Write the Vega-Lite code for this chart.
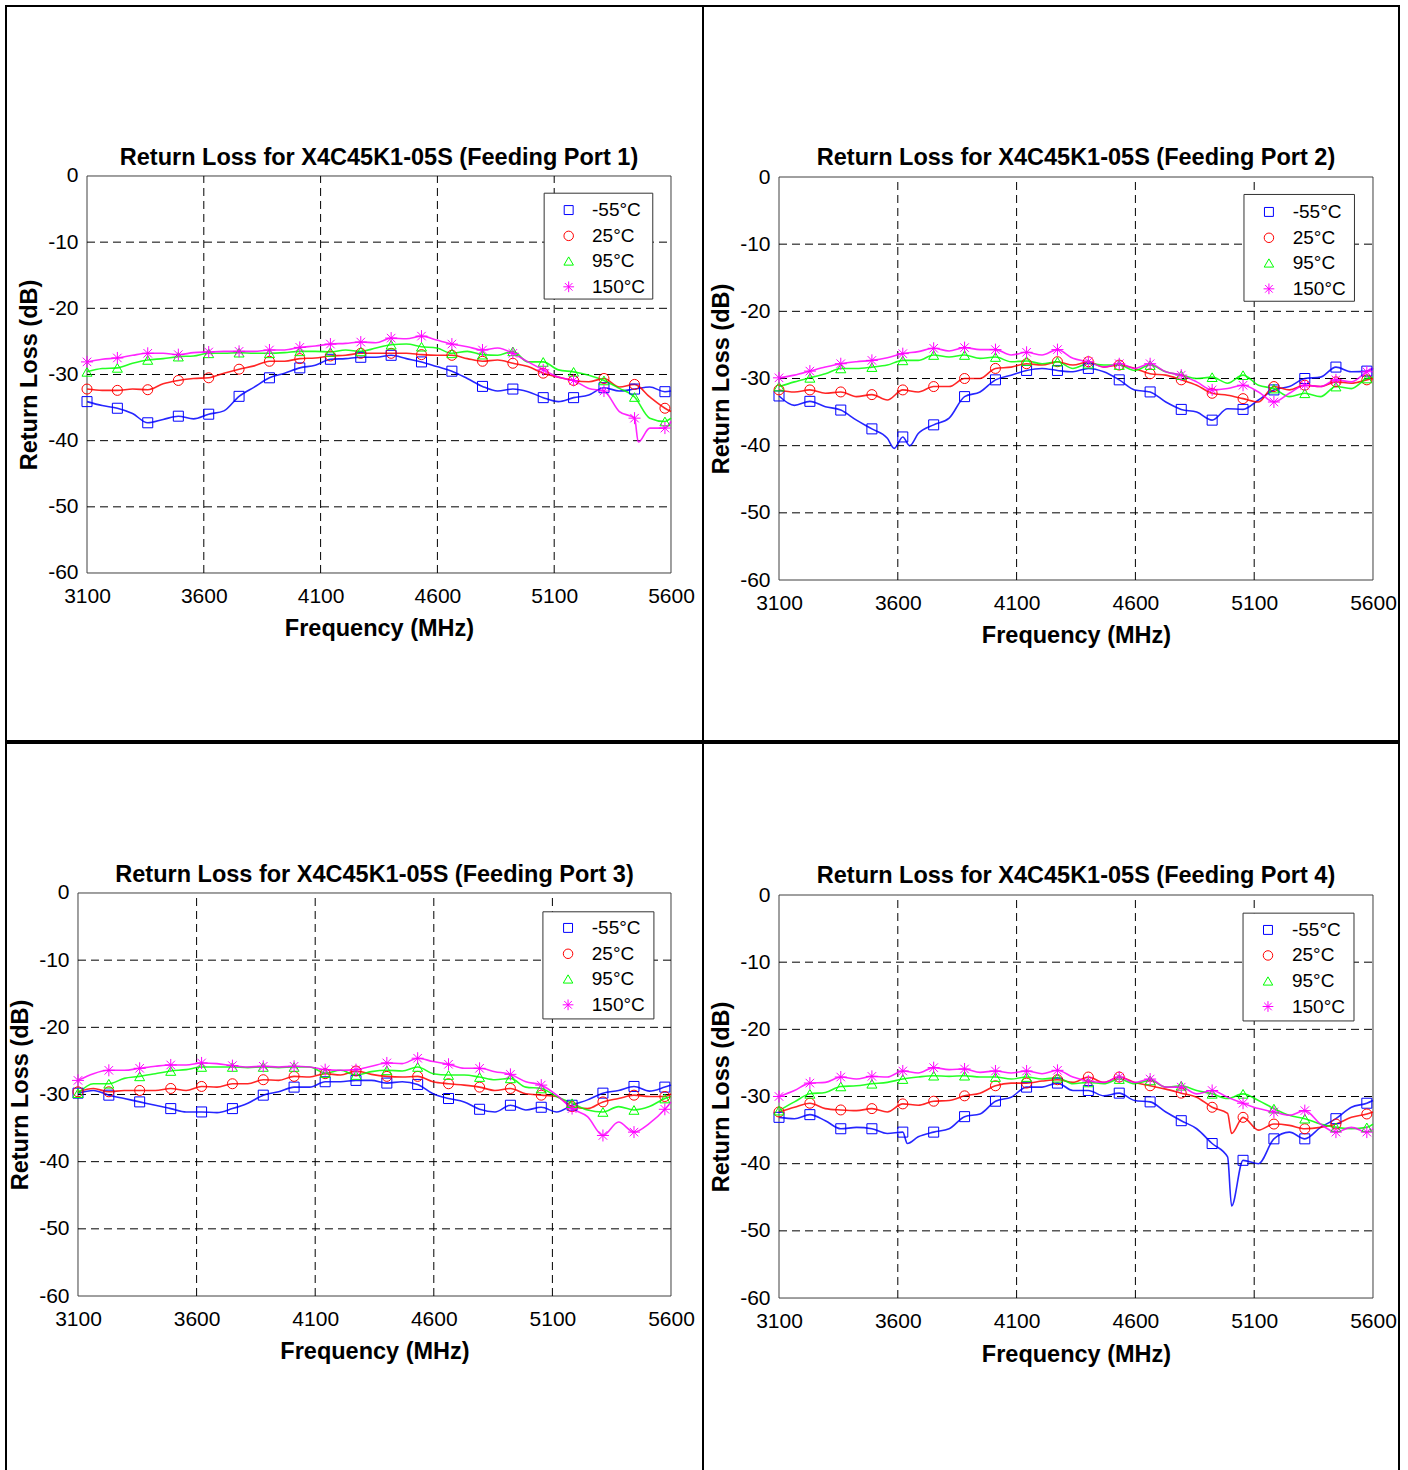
{
"$schema": "https://vega.github.io/schema/vega-lite/v6.json",
"background": "white",
"padding": {"left": 5, "top": 5, "right": 0, "bottom": 0},
"config": {"view": {"stroke": "black", "strokeWidth": 2}, "font": "Liberation Sans"},
"datasets": {
"p1": [
{"f":3100,"-55°C":-34.1,"25°C":-32.2,"95°C":-29.6,"150°C":-28.1},
{"f":3165,"-55°C":-34.7,"25°C":-32.4,"95°C":-29.1,"150°C":-27.7},
{"f":3230,"-55°C":-35.1,"25°C":-32.4,"95°C":-29.0,"150°C":-27.5},
{"f":3295,"-55°C":-35.9,"25°C":-32.2,"95°C":-28.3,"150°C":-27.1},
{"f":3360,"-55°C":-37.3,"25°C":-32.3,"95°C":-27.8,"150°C":-26.8},
{"f":3426,"-55°C":-36.8,"25°C":-31.4,"95°C":-27.6,"150°C":-26.8},
{"f":3491,"-55°C":-36.3,"25°C":-30.9,"95°C":-27.3,"150°C":-27.0},
{"f":3556,"-55°C":-36.7,"25°C":-30.6,"95°C":-27.2,"150°C":-26.7},
{"f":3621,"-55°C":-36.0,"25°C":-30.5,"95°C":-26.8,"150°C":-26.6},
{"f":3686,"-55°C":-35.5,"25°C":-29.8,"95°C":-26.8,"150°C":-26.5},
{"f":3751,"-55°C":-33.3,"25°C":-29.2,"95°C":-26.7,"150°C":-26.5},
{"f":3816,"-55°C":-31.9,"25°C":-28.7,"95°C":-26.8,"150°C":-26.5},
{"f":3881,"-55°C":-30.5,"25°C":-28.0,"95°C":-26.8,"150°C":-26.3},
{"f":3946,"-55°C":-29.8,"25°C":-28.0,"95°C":-26.7,"150°C":-26.3},
{"f":4011,"-55°C":-29.0,"25°C":-27.6,"95°C":-26.5,"150°C":-25.9},
{"f":4077,"-55°C":-28.6,"25°C":-27.5,"95°C":-26.5,"150°C":-25.7},
{"f":4142,"-55°C":-27.7,"25°C":-27.2,"95°C":-26.6,"150°C":-25.4},
{"f":4207,"-55°C":-27.6,"25°C":-27.1,"95°C":-26.3,"150°C":-25.3},
{"f":4272,"-55°C":-27.4,"25°C":-26.8,"95°C":-26.5,"150°C":-25.1},
{"f":4337,"-55°C":-27.4,"25°C":-26.8,"95°C":-26.0,"150°C":-25.2},
{"f":4402,"-55°C":-27.1,"25°C":-26.8,"95°C":-25.5,"150°C":-24.5},
{"f":4467,"-55°C":-27.6,"25°C":-26.8,"95°C":-25.4,"150°C":-24.6},
{"f":4532,"-55°C":-28.1,"25°C":-27.0,"95°C":-25.8,"150°C":-24.2},
{"f":4597,"-55°C":-28.8,"25°C":-27.1,"95°C":-26.0,"150°C":-24.8},
{"f":4662,"-55°C":-29.5,"25°C":-27.1,"95°C":-26.8,"150°C":-25.4},
{"f":4728,"-55°C":-30.6,"25°C":-27.6,"95°C":-26.5,"150°C":-25.8},
{"f":4793,"-55°C":-31.8,"25°C":-28.0,"95°C":-27.0,"150°C":-26.3},
{"f":4858,"-55°C":-32.5,"25°C":-27.8,"95°C":-27.1,"150°C":-26.0},
{"f":4923,"-55°C":-32.2,"25°C":-28.3,"95°C":-26.5,"150°C":-26.8},
{"f":4988,"-55°C":-32.6,"25°C":-28.8,"95°C":-28.1,"150°C":-28.1},
{"f":5053,"-55°C":-33.5,"25°C":-29.8,"95°C":-28.1,"150°C":-29.3},
{"f":5118,"-55°C":-34.1,"25°C":-30.4,"95°C":-29.3,"150°C":-30.4},
{"f":5183,"-55°C":-33.5,"25°C":-30.9,"95°C":-29.6,"150°C":-30.9},
{"f":5248,"-55°C":-33.1,"25°C":-31.1,"95°C":-30.1,"150°C":-32.1},
{"f":5313,"-55°C":-32.0,"25°C":-30.6,"95°C":-30.9,"150°C":-32.5},
{"f":5379,"-55°C":-32.5,"25°C":-31.9,"95°C":-32.1,"150°C":-35.6},
{"f":5444,"-55°C":-32.2,"25°C":-31.5,"95°C":-33.4,"150°C":-36.6},
{"f":5460,"150°C":-40.2},
{"f":5509,"-55°C":-31.9,"25°C":-33.4,"95°C":-36.6,"150°C":-38.1},
{"f":5574,"-55°C":-32.6,"25°C":-35.1,"95°C":-37.1,"150°C":-38.1},
{"f":5600,"-55°C":-32.5,"25°C":-35.6,"95°C":-36.6,"150°C":-37.1}
],
"p2": [
{"f":3100,"-55°C":-32.6,"25°C":-31.7,"95°C":-31.2,"150°C":-29.9},
{"f":3165,"-55°C":-34.0,"25°C":-32.0,"95°C":-30.5,"150°C":-29.5},
{"f":3230,"-55°C":-33.4,"25°C":-31.7,"95°C":-29.9,"150°C":-28.9},
{"f":3295,"-55°C":-34.2,"25°C":-32.2,"95°C":-29.3,"150°C":-28.3},
{"f":3360,"-55°C":-34.7,"25°C":-32.0,"95°C":-28.5,"150°C":-27.8},
{"f":3426,"-55°C":-36.2,"25°C":-32.7,"95°C":-28.5,"150°C":-27.5},
{"f":3491,"-55°C":-37.5,"25°C":-32.4,"95°C":-28.3,"150°C":-27.3},
{"f":3556,"-55°C":-38.9,"25°C":-33.2,"95°C":-28.0,"150°C":-26.9},
{"f":3585,"-55°C":-40.4},
{"f":3621,"-55°C":-38.7,"25°C":-31.7,"95°C":-27.3,"150°C":-26.3},
{"f":3650,"-55°C":-40.0},
{"f":3686,"-55°C":-38.2,"25°C":-32.0,"95°C":-27.3,"150°C":-26.0},
{"f":3751,"-55°C":-36.9,"25°C":-31.2,"95°C":-26.5,"150°C":-25.5},
{"f":3816,"-55°C":-35.9,"25°C":-31.2,"95°C":-26.8,"150°C":-25.9},
{"f":3881,"-55°C":-32.7,"25°C":-30.0,"95°C":-26.5,"150°C":-25.4},
{"f":3946,"-55°C":-32.0,"25°C":-30.0,"95°C":-27.0,"150°C":-25.7},
{"f":4011,"-55°C":-30.2,"25°C":-28.5,"95°C":-26.8,"150°C":-25.7},
{"f":4077,"-55°C":-29.5,"25°C":-28.3,"95°C":-27.5,"150°C":-26.5},
{"f":4142,"-55°C":-28.8,"25°C":-27.8,"95°C":-27.4,"150°C":-26.1},
{"f":4207,"-55°C":-28.5,"25°C":-28.0,"95°C":-27.8,"150°C":-26.5},
{"f":4272,"-55°C":-28.8,"25°C":-27.5,"95°C":-27.5,"150°C":-25.7},
{"f":4337,"-55°C":-29.0,"25°C":-28.0,"95°C":-28.5,"150°C":-27.0},
{"f":4402,"-55°C":-28.5,"25°C":-27.5,"95°C":-27.8,"150°C":-27.5},
{"f":4467,"-55°C":-29.0,"25°C":-28.3,"95°C":-28.0,"150°C":-28.3},
{"f":4532,"-55°C":-30.2,"25°C":-28.0,"95°C":-28.0,"150°C":-27.8},
{"f":4597,"-55°C":-31.7,"25°C":-28.5,"95°C":-28.8,"150°C":-28.5},
{"f":4662,"-55°C":-32.0,"25°C":-29.3,"95°C":-28.0,"150°C":-27.8},
{"f":4728,"-55°C":-33.5,"25°C":-29.5,"95°C":-29.0,"150°C":-29.0},
{"f":4793,"-55°C":-34.6,"25°C":-30.2,"95°C":-29.5,"150°C":-29.5},
{"f":4858,"-55°C":-35.0,"25°C":-31.0,"95°C":-30.0,"150°C":-30.5},
{"f":4923,"-55°C":-36.2,"25°C":-32.2,"95°C":-29.8,"150°C":-31.7},
{"f":4988,"-55°C":-34.5,"25°C":-32.5,"95°C":-30.7,"150°C":-31.5},
{"f":5053,"-55°C":-34.6,"25°C":-33.0,"95°C":-29.5,"150°C":-31.0},
{"f":5118,"-55°C":-33.2,"25°C":-33.5,"95°C":-31.0,"150°C":-32.0},
{"f":5183,"-55°C":-31.7,"25°C":-31.2,"95°C":-31.5,"150°C":-33.5},
{"f":5248,"-55°C":-31.2,"25°C":-31.7,"95°C":-32.7,"150°C":-32.2},
{"f":5313,"-55°C":-30.0,"25°C":-31.0,"95°C":-32.2,"150°C":-31.0},
{"f":5379,"-55°C":-29.8,"25°C":-31.2,"95°C":-32.7,"150°C":-31.2},
{"f":5444,"-55°C":-28.3,"25°C":-30.5,"95°C":-31.2,"150°C":-30.2},
{"f":5509,"-55°C":-29.0,"25°C":-30.7,"95°C":-31.5,"150°C":-30.5},
{"f":5574,"-55°C":-28.9,"25°C":-30.2,"95°C":-30.0,"150°C":-29.0},
{"f":5600,"-55°C":-28.5,"25°C":-30.0,"95°C":-29.8,"150°C":-28.5}
],
"p3": [
{"f":3100,"-55°C":-29.8,"25°C":-29.6,"95°C":-29.8,"150°C":-27.9},
{"f":3165,"-55°C":-29.4,"25°C":-29.1,"95°C":-28.4,"150°C":-26.9},
{"f":3230,"-55°C":-30.1,"25°C":-29.6,"95°C":-28.4,"150°C":-26.4},
{"f":3295,"-55°C":-30.6,"25°C":-29.4,"95°C":-27.6,"150°C":-26.4},
{"f":3360,"-55°C":-31.1,"25°C":-29.4,"95°C":-27.3,"150°C":-26.1},
{"f":3426,"-55°C":-31.6,"25°C":-29.4,"95°C":-26.9,"150°C":-25.8},
{"f":3491,"-55°C":-32.1,"25°C":-29.1,"95°C":-26.5,"150°C":-25.6},
{"f":3556,"-55°C":-32.6,"25°C":-29.4,"95°C":-26.3,"150°C":-25.6},
{"f":3621,"-55°C":-32.6,"25°C":-28.8,"95°C":-25.9,"150°C":-25.3},
{"f":3686,"-55°C":-32.7,"25°C":-28.9,"95°C":-25.9,"150°C":-25.4},
{"f":3751,"-55°C":-32.1,"25°C":-28.4,"95°C":-25.9,"150°C":-25.7},
{"f":3816,"-55°C":-31.3,"25°C":-28.4,"95°C":-26.0,"150°C":-25.9},
{"f":3881,"-55°C":-30.1,"25°C":-27.8,"95°C":-25.9,"150°C":-25.8},
{"f":3946,"-55°C":-29.6,"25°C":-27.9,"95°C":-26.0,"150°C":-25.9},
{"f":4011,"-55°C":-28.9,"25°C":-27.3,"95°C":-25.9,"150°C":-25.8},
{"f":4077,"-55°C":-28.9,"25°C":-27.4,"95°C":-25.9,"150°C":-25.9},
{"f":4142,"-55°C":-28.1,"25°C":-26.9,"95°C":-26.8,"150°C":-26.3},
{"f":4207,"-55°C":-28.1,"25°C":-27.1,"95°C":-26.4,"150°C":-26.4},
{"f":4272,"-55°C":-27.9,"25°C":-26.5,"95°C":-27.1,"150°C":-26.3},
{"f":4337,"-55°C":-27.9,"25°C":-27.0,"95°C":-26.6,"150°C":-25.8},
{"f":4402,"-55°C":-28.3,"25°C":-27.3,"95°C":-26.4,"150°C":-25.3},
{"f":4467,"-55°C":-28.1,"25°C":-27.4,"95°C":-26.5,"150°C":-25.4},
{"f":4532,"-55°C":-28.5,"25°C":-27.3,"95°C":-25.9,"150°C":-24.6},
{"f":4597,"-55°C":-29.9,"25°C":-28.1,"95°C":-26.9,"150°C":-25.1},
{"f":4662,"-55°C":-30.6,"25°C":-28.4,"95°C":-27.1,"150°C":-25.5},
{"f":4728,"-55°C":-31.1,"25°C":-28.6,"95°C":-27.1,"150°C":-26.1},
{"f":4793,"-55°C":-32.2,"25°C":-28.9,"95°C":-27.4,"150°C":-26.1},
{"f":4858,"-55°C":-32.6,"25°C":-29.4,"95°C":-27.8,"150°C":-26.6},
{"f":4923,"-55°C":-31.6,"25°C":-29.1,"95°C":-27.6,"150°C":-27.0},
{"f":4988,"-55°C":-32.3,"25°C":-29.9,"95°C":-28.9,"150°C":-28.1},
{"f":5053,"-55°C":-31.9,"25°C":-30.1,"95°C":-29.1,"150°C":-28.6},
{"f":5118,"-55°C":-32.6,"25°C":-30.3,"95°C":-30.3,"150°C":-30.1},
{"f":5183,"-55°C":-31.6,"25°C":-31.8,"95°C":-31.3,"150°C":-32.1},
{"f":5248,"-55°C":-30.8,"25°C":-32.1,"95°C":-32.3,"150°C":-33.3},
{"f":5313,"-55°C":-29.8,"25°C":-31.1,"95°C":-32.6,"150°C":-36.1},
{"f":5379,"-55°C":-29.4,"25°C":-30.6,"95°C":-31.8,"150°C":-34.1},
{"f":5444,"-55°C":-28.8,"25°C":-30.1,"95°C":-32.3,"150°C":-35.6},
{"f":5509,"-55°C":-29.5,"25°C":-30.3,"95°C":-31.8,"150°C":-34.3},
{"f":5574,"-55°C":-28.9,"25°C":-30.3,"95°C":-30.6,"150°C":-32.2},
{"f":5600,"-55°C":-28.6,"25°C":-29.9,"95°C":-30.3,"150°C":-31.1}
],
"p4": [
{"f":3100,"-55°C":-33.1,"25°C":-32.3,"95°C":-32.1,"150°C":-30.0},
{"f":3165,"-55°C":-33.3,"25°C":-31.6,"95°C":-30.8,"150°C":-29.1},
{"f":3230,"-55°C":-32.7,"25°C":-31.0,"95°C":-29.6,"150°C":-28.0},
{"f":3295,"-55°C":-33.6,"25°C":-31.8,"95°C":-29.4,"150°C":-27.9},
{"f":3360,"-55°C":-34.8,"25°C":-32.0,"95°C":-28.5,"150°C":-27.1},
{"f":3426,"-55°C":-34.6,"25°C":-32.1,"95°C":-28.4,"150°C":-27.4},
{"f":3491,"-55°C":-34.8,"25°C":-31.8,"95°C":-28.1,"150°C":-27.0},
{"f":3556,"-55°C":-35.5,"25°C":-32.3,"95°C":-27.9,"150°C":-27.1},
{"f":3621,"-55°C":-35.3,"25°C":-31.1,"95°C":-27.4,"150°C":-26.2},
{"f":3640,"-55°C":-37.0},
{"f":3686,"-55°C":-36.0,"25°C":-31.3,"95°C":-27.1,"150°C":-26.5},
{"f":3751,"-55°C":-35.3,"25°C":-30.7,"95°C":-26.9,"150°C":-25.7},
{"f":3816,"-55°C":-34.8,"25°C":-30.6,"95°C":-27.0,"150°C":-26.0},
{"f":3881,"-55°C":-33.0,"25°C":-29.9,"95°C":-26.9,"150°C":-25.9},
{"f":3946,"-55°C":-32.6,"25°C":-29.5,"95°C":-27.1,"150°C":-26.4},
{"f":4011,"-55°C":-30.7,"25°C":-28.4,"95°C":-27.1,"150°C":-26.2},
{"f":4077,"-55°C":-30.1,"25°C":-28.0,"95°C":-27.4,"150°C":-26.5},
{"f":4142,"-55°C":-28.6,"25°C":-28.0,"95°C":-27.1,"150°C":-26.2},
{"f":4207,"-55°C":-28.6,"25°C":-27.7,"95°C":-27.4,"150°C":-26.6},
{"f":4272,"-55°C":-28.0,"25°C":-27.5,"95°C":-27.2,"150°C":-26.1},
{"f":4337,"-55°C":-29.1,"25°C":-27.9,"95°C":-28.1,"150°C":-27.1},
{"f":4402,"-55°C":-29.1,"25°C":-27.1,"95°C":-27.9,"150°C":-27.7},
{"f":4467,"-55°C":-29.9,"25°C":-27.9,"95°C":-28.1,"150°C":-27.9},
{"f":4532,"-55°C":-29.5,"25°C":-27.1,"95°C":-27.4,"150°C":-27.1},
{"f":4597,"-55°C":-30.6,"25°C":-27.9,"95°C":-28.1,"150°C":-27.9},
{"f":4662,"-55°C":-30.8,"25°C":-28.4,"95°C":-27.6,"150°C":-27.4},
{"f":4728,"-55°C":-32.3,"25°C":-28.9,"95°C":-28.6,"150°C":-28.6},
{"f":4793,"-55°C":-33.6,"25°C":-29.5,"95°C":-28.4,"150°C":-28.6},
{"f":4858,"-55°C":-34.8,"25°C":-30.1,"95°C":-29.1,"150°C":-29.6},
{"f":4923,"-55°C":-37.0,"25°C":-31.6,"95°C":-29.6,"150°C":-29.1},
{"f":4988,"-55°C":-39.0,"25°C":-32.5,"95°C":-30.3,"150°C":-30.1},
{"f":5005,"-55°C":-46.3,"25°C":-35.5},
{"f":5053,"-55°C":-39.5,"25°C":-33.1,"95°C":-29.6,"150°C":-31.0},
{"f":5118,"-55°C":-40.0,"25°C":-35.0,"95°C":-30.6,"150°C":-31.8},
{"f":5183,"-55°C":-36.3,"25°C":-34.1,"95°C":-31.8,"150°C":-32.3},
{"f":5248,"-55°C":-35.3,"25°C":-34.3,"95°C":-32.8,"150°C":-32.8},
{"f":5313,"-55°C":-36.3,"25°C":-34.8,"95°C":-33.3,"150°C":-32.1},
{"f":5379,"-55°C":-34.6,"25°C":-34.6,"95°C":-34.1,"150°C":-34.1},
{"f":5444,"-55°C":-33.3,"25°C":-34.1,"95°C":-34.6,"150°C":-35.3},
{"f":5509,"-55°C":-31.6,"25°C":-33.1,"95°C":-34.8,"150°C":-34.6},
{"f":5574,"-55°C":-31.0,"25°C":-32.6,"95°C":-34.6,"150°C":-35.3},
{"f":5600,"-55°C":-30.6,"25°C":-32.3,"95°C":-34.1,"150°C":-34.8}
]
},
"vconcat": [
{"hconcat": [
{"width": 697, "height": 735, "layer": [
{"data": {"values": [{}]}, "mark": {"type": "rect", "fill": "transparent", "stroke": "#404040", "strokeWidth": 1},
 "encoding": {
  "x": {"datum": 3100, "type": "quantitative", "scale": {"domain": [2753.25, 5736.99], "nice": false, "zero": false},
   "axis": {"title": "Frequency (MHz)", "orient": "bottom", "offset": -168, "values": [3100,3600,4100,4600,5100,5600], "labelExpr": "'' + datum.value", "grid": false, "domain": false, "ticks": false, "labelFontSize": 21, "labelColor": "black", "labelPadding": 12, "labelFlush": false, "labelOverlap": false, "titleFontSize": 23.5, "titleFontWeight": "bold", "titleColor": "black", "titleX": 373, "titleY": 55, "titleAlign": "center", "titleBaseline": "middle"}},
  "x2": {"datum": 5600},
  "y": {"datum": -60, "type": "quantitative", "scale": {"domain": [-85.39, 25.69], "nice": false, "zero": false},
   "axis": {"title": "Return Loss (dB)", "orient": "left", "offset": -81, "values": [0,-10,-20,-30,-40,-50,-60], "labelExpr": "'' + datum.value", "grid": false, "domain": false, "ticks": false, "labelFontSize": 21, "labelColor": "black", "labelPadding": 9, "labelFlush": false, "labelOverlap": false, "titleFontSize": 23.5, "titleFontWeight": "bold", "titleColor": "black", "titleX": -58, "titleY": 368.5, "titleAngle": 270, "titleAlign": "center", "titleBaseline": "middle"}},
  "y2": {"datum": 0}}},
{"data": {"values": [{"f":3600},{"f":4100},{"f":4600},{"f":5100}]}, "mark": {"type": "rule", "color": "black", "strokeWidth": 1, "strokeDash": [8,5]},
 "encoding": {"x": {"field": "f", "type": "quantitative"}, "y": {"datum": -60, "type": "quantitative"}, "y2": {"datum": 0}}},
{"data": {"values": [{"v":-10},{"v":-20},{"v":-30},{"v":-40},{"v":-50}]}, "mark": {"type": "rule", "color": "black", "strokeWidth": 1, "strokeDash": [8,5]},
 "encoding": {"y": {"field": "v", "type": "quantitative"}, "x": {"datum": 3100, "type": "quantitative"}, "x2": {"datum": 5600}}},
{"data": {"name": "p1"}, "transform": [{"fold": ["-55°C","25°C","95°C","150°C"], "as": ["s","v"]}, {"filter": "isValid(datum.v)"}],
 "mark": {"type": "line", "strokeWidth": 1.6, "opacity": 0.85, "interpolate": "monotone"},
 "encoding": {"x": {"field": "f", "type": "quantitative"}, "y": {"field": "v", "type": "quantitative"},
  "stroke": {"field": "s", "type": "nominal", "scale": {"domain": ["-55°C","25°C","95°C","150°C"], "range": ["#0000ff","#ff0000","#00ff00","#ff00ff"]}, "legend": null}}},
{"data": {"name": "p1"}, "transform": [{"fold": ["-55°C","25°C","95°C","150°C"], "as": ["s","v"]}, {"filter": "isValid(datum.v)"}, {"filter": {"field": "f", "oneOf": [3100,3230,3360,3491,3621,3751,3881,4011,4142,4272,4402,4532,4662,4793,4923,5053,5183,5313,5444,5574]}}],
 "mark": {"type": "point", "filled": false, "size": 100, "strokeWidth": 1, "opacity": 1},
 "encoding": {"x": {"field": "f", "type": "quantitative"}, "y": {"field": "v", "type": "quantitative"},
  "color": {"field": "s", "type": "nominal", "scale": {"domain": ["-55°C","25°C","95°C","150°C"], "range": ["#0000ff","#ff0000","#00ff00","#ff00ff"]}, "legend": null},
  "shape": {"field": "s", "type": "nominal", "scale": {"domain": ["-55°C","25°C","95°C","150°C"], "range": ["square","circle","triangle-up","M0,-1.2L0,1.2M-1.2,0L1.2,0M-0.85,-0.85L0.85,0.85M-0.85,0.85L0.85,-0.85"]}, "legend": null}}},
{"data": {"values": [{}]}, "mark": {"type": "rect", "fill": "white", "stroke": "#333333", "strokeWidth": 1}, "encoding": {"x": {"datum": 5057, "type": "quantitative"}, "x2": {"datum": 5522}, "y": {"datum": -2.6, "type": "quantitative"}, "y2": {"datum": -18.6}}},
{"data": {"values": [{}]}, "mark": {"type": "point", "shape": "square", "color": "#0000ff", "filled": false, "size": 80, "strokeWidth": 1, "opacity": 1}, "encoding": {"x": {"datum": 5162, "type": "quantitative"}, "y": {"datum": -5.15, "type": "quantitative"}}},
{"data": {"values": [{}]}, "mark": {"type": "point", "shape": "circle", "color": "#ff0000", "filled": false, "size": 90, "strokeWidth": 1, "opacity": 1}, "encoding": {"x": {"datum": 5162, "type": "quantitative"}, "y": {"datum": -9.05, "type": "quantitative"}}},
{"data": {"values": [{}]}, "mark": {"type": "point", "shape": "triangle-up", "color": "#00ff00", "filled": false, "size": 90, "strokeWidth": 1, "opacity": 1}, "encoding": {"x": {"datum": 5162, "type": "quantitative"}, "y": {"datum": -12.85, "type": "quantitative"}}},
{"data": {"values": [{}]}, "mark": {"type": "point", "shape": "M0,-1.2L0,1.2M-1.2,0L1.2,0M-0.85,-0.85L0.85,0.85M-0.85,0.85L0.85,-0.85", "color": "#ff00ff", "filled": false, "size": 80, "strokeWidth": 1, "opacity": 1}, "encoding": {"x": {"datum": 5162, "type": "quantitative"}, "y": {"datum": -16.75, "type": "quantitative"}}},
{"data": {"values": [{"t": "-55°C"}]}, "mark": {"type": "text", "align": "left", "baseline": "middle", "fontSize": 19, "color": "black"}, "encoding": {"x": {"datum": 5262, "type": "quantitative"}, "y": {"datum": -5.15, "type": "quantitative"}, "text": {"field": "t"}}},
{"data": {"values": [{"t": "25°C"}]}, "mark": {"type": "text", "align": "left", "baseline": "middle", "fontSize": 19, "color": "black"}, "encoding": {"x": {"datum": 5262, "type": "quantitative"}, "y": {"datum": -9.05, "type": "quantitative"}, "text": {"field": "t"}}},
{"data": {"values": [{"t": "95°C"}]}, "mark": {"type": "text", "align": "left", "baseline": "middle", "fontSize": 19, "color": "black"}, "encoding": {"x": {"datum": 5262, "type": "quantitative"}, "y": {"datum": -12.85, "type": "quantitative"}, "text": {"field": "t"}}},
{"data": {"values": [{"t": "150°C"}]}, "mark": {"type": "text", "align": "left", "baseline": "middle", "fontSize": 19, "color": "black"}, "encoding": {"x": {"datum": 5262, "type": "quantitative"}, "y": {"datum": -16.75, "type": "quantitative"}, "text": {"field": "t"}}},
{"data": {"values": [{"t": "Return Loss for X4C45K1-05S (Feeding Port 1)"}]}, "mark": {"type": "text", "fontSize": 23.5, "fontWeight": "bold", "color": "black", "baseline": "middle", "align": "center", "dy": -18},
 "encoding": {"x": {"datum": 4350, "type": "quantitative"}, "y": {"datum": 0, "type": "quantitative"}, "text": {"field": "t"}}}
]},
{"width": 696, "height": 735, "layer": [
{"data": {"values": [{}]}, "mark": {"type": "rect", "fill": "transparent", "stroke": "#404040", "strokeWidth": 1},
 "encoding": {
  "x": {"datum": 3100, "type": "quantitative", "scale": {"domain": [2780.13, 5709.43], "nice": false, "zero": false},
   "axis": {"title": "Frequency (MHz)", "orient": "bottom", "offset": -161, "values": [3100,3600,4100,4600,5100,5600], "labelExpr": "'' + datum.value", "grid": false, "domain": false, "ticks": false, "labelFontSize": 21, "labelColor": "black", "labelPadding": 12, "labelFlush": false, "labelOverlap": false, "titleFontSize": 23.5, "titleFontWeight": "bold", "titleColor": "black", "titleX": 373, "titleY": 55, "titleAlign": "center", "titleBaseline": "middle"}},
  "x2": {"datum": 5600},
  "y": {"datum": -60, "type": "quantitative", "scale": {"domain": [-83.97, 25.46], "nice": false, "zero": false},
   "axis": {"title": "Return Loss (dB)", "orient": "left", "offset": -76, "values": [0,-10,-20,-30,-40,-50,-60], "labelExpr": "'' + datum.value", "grid": false, "domain": false, "ticks": false, "labelFontSize": 21, "labelColor": "black", "labelPadding": 9, "labelFlush": false, "labelOverlap": false, "titleFontSize": 23.5, "titleFontWeight": "bold", "titleColor": "black", "titleX": -58, "titleY": 372.5, "titleAngle": 270, "titleAlign": "center", "titleBaseline": "middle"}},
  "y2": {"datum": 0}}},
{"data": {"values": [{"f":3600},{"f":4100},{"f":4600},{"f":5100}]}, "mark": {"type": "rule", "color": "black", "strokeWidth": 1, "strokeDash": [8,5]},
 "encoding": {"x": {"field": "f", "type": "quantitative"}, "y": {"datum": -60, "type": "quantitative"}, "y2": {"datum": 0}}},
{"data": {"values": [{"v":-10},{"v":-20},{"v":-30},{"v":-40},{"v":-50}]}, "mark": {"type": "rule", "color": "black", "strokeWidth": 1, "strokeDash": [8,5]},
 "encoding": {"y": {"field": "v", "type": "quantitative"}, "x": {"datum": 3100, "type": "quantitative"}, "x2": {"datum": 5600}}},
{"data": {"name": "p2"}, "transform": [{"fold": ["-55°C","25°C","95°C","150°C"], "as": ["s","v"]}, {"filter": "isValid(datum.v)"}],
 "mark": {"type": "line", "strokeWidth": 1.6, "opacity": 0.85, "interpolate": "monotone"},
 "encoding": {"x": {"field": "f", "type": "quantitative"}, "y": {"field": "v", "type": "quantitative"},
  "stroke": {"field": "s", "type": "nominal", "scale": {"domain": ["-55°C","25°C","95°C","150°C"], "range": ["#0000ff","#ff0000","#00ff00","#ff00ff"]}, "legend": null}}},
{"data": {"name": "p2"}, "transform": [{"fold": ["-55°C","25°C","95°C","150°C"], "as": ["s","v"]}, {"filter": "isValid(datum.v)"}, {"filter": {"field": "f", "oneOf": [3100,3230,3360,3491,3621,3751,3881,4011,4142,4272,4402,4532,4662,4793,4923,5053,5183,5313,5444,5574]}}],
 "mark": {"type": "point", "filled": false, "size": 100, "strokeWidth": 1, "opacity": 1},
 "encoding": {"x": {"field": "f", "type": "quantitative"}, "y": {"field": "v", "type": "quantitative"},
  "color": {"field": "s", "type": "nominal", "scale": {"domain": ["-55°C","25°C","95°C","150°C"], "range": ["#0000ff","#ff0000","#00ff00","#ff00ff"]}, "legend": null},
  "shape": {"field": "s", "type": "nominal", "scale": {"domain": ["-55°C","25°C","95°C","150°C"], "range": ["square","circle","triangle-up","M0,-1.2L0,1.2M-1.2,0L1.2,0M-0.85,-0.85L0.85,0.85M-0.85,0.85L0.85,-0.85"]}, "legend": null}}},
{"data": {"values": [{}]}, "mark": {"type": "rect", "fill": "white", "stroke": "#333333", "strokeWidth": 1}, "encoding": {"x": {"datum": 5057, "type": "quantitative"}, "x2": {"datum": 5522}, "y": {"datum": -2.6, "type": "quantitative"}, "y2": {"datum": -18.5}}},
{"data": {"values": [{}]}, "mark": {"type": "point", "shape": "square", "color": "#0000ff", "filled": false, "size": 80, "strokeWidth": 1, "opacity": 1}, "encoding": {"x": {"datum": 5162, "type": "quantitative"}, "y": {"datum": -5.2, "type": "quantitative"}}},
{"data": {"values": [{}]}, "mark": {"type": "point", "shape": "circle", "color": "#ff0000", "filled": false, "size": 90, "strokeWidth": 1, "opacity": 1}, "encoding": {"x": {"datum": 5162, "type": "quantitative"}, "y": {"datum": -9.05, "type": "quantitative"}}},
{"data": {"values": [{}]}, "mark": {"type": "point", "shape": "triangle-up", "color": "#00ff00", "filled": false, "size": 90, "strokeWidth": 1, "opacity": 1}, "encoding": {"x": {"datum": 5162, "type": "quantitative"}, "y": {"datum": -12.8, "type": "quantitative"}}},
{"data": {"values": [{}]}, "mark": {"type": "point", "shape": "M0,-1.2L0,1.2M-1.2,0L1.2,0M-0.85,-0.85L0.85,0.85M-0.85,0.85L0.85,-0.85", "color": "#ff00ff", "filled": false, "size": 80, "strokeWidth": 1, "opacity": 1}, "encoding": {"x": {"datum": 5162, "type": "quantitative"}, "y": {"datum": -16.65, "type": "quantitative"}}},
{"data": {"values": [{"t": "-55°C"}]}, "mark": {"type": "text", "align": "left", "baseline": "middle", "fontSize": 19, "color": "black"}, "encoding": {"x": {"datum": 5262, "type": "quantitative"}, "y": {"datum": -5.2, "type": "quantitative"}, "text": {"field": "t"}}},
{"data": {"values": [{"t": "25°C"}]}, "mark": {"type": "text", "align": "left", "baseline": "middle", "fontSize": 19, "color": "black"}, "encoding": {"x": {"datum": 5262, "type": "quantitative"}, "y": {"datum": -9.05, "type": "quantitative"}, "text": {"field": "t"}}},
{"data": {"values": [{"t": "95°C"}]}, "mark": {"type": "text", "align": "left", "baseline": "middle", "fontSize": 19, "color": "black"}, "encoding": {"x": {"datum": 5262, "type": "quantitative"}, "y": {"datum": -12.8, "type": "quantitative"}, "text": {"field": "t"}}},
{"data": {"values": [{"t": "150°C"}]}, "mark": {"type": "text", "align": "left", "baseline": "middle", "fontSize": 19, "color": "black"}, "encoding": {"x": {"datum": 5262, "type": "quantitative"}, "y": {"datum": -16.65, "type": "quantitative"}, "text": {"field": "t"}}},
{"data": {"values": [{"t": "Return Loss for X4C45K1-05S (Feeding Port 2)"}]}, "mark": {"type": "text", "fontSize": 23.5, "fontWeight": "bold", "color": "black", "baseline": "middle", "align": "center", "dy": -19},
 "encoding": {"x": {"datum": 4350, "type": "quantitative"}, "y": {"datum": 0, "type": "quantitative"}, "text": {"field": "t"}}}
]}
], "spacing": 0, "bounds": "flush",
 "resolve": {"scale": {"x": "independent", "y": "independent", "color": "independent", "shape": "independent", "stroke": "independent"}, "axis": {"x": "independent", "y": "independent"}}},
{"hconcat": [
{"width": 697, "height": 730, "layer": [
{"data": {"values": [{}]}, "mark": {"type": "rect", "fill": "transparent", "stroke": "#404040", "strokeWidth": 1},
 "encoding": {
  "x": {"datum": 3100, "type": "quantitative", "scale": {"domain": [2796.46, 5734.91], "nice": false, "zero": false},
   "axis": {"title": "Frequency (MHz)", "orient": "bottom", "offset": -177, "values": [3100,3600,4100,4600,5100,5600], "labelExpr": "'' + datum.value", "grid": false, "domain": false, "ticks": false, "labelFontSize": 21, "labelColor": "black", "labelPadding": 12, "labelFlush": false, "labelOverlap": false, "titleFontSize": 23.5, "titleFontWeight": "bold", "titleColor": "black", "titleX": 368.5, "titleY": 55, "titleAlign": "center", "titleBaseline": "middle"}},
  "x2": {"datum": 5600},
  "y": {"datum": -60, "type": "quantitative", "scale": {"domain": [-86.35, 22.33], "nice": false, "zero": false},
   "axis": {"title": "Return Loss (dB)", "orient": "left", "offset": -72, "values": [0,-10,-20,-30,-40,-50,-60], "labelExpr": "'' + datum.value", "grid": false, "domain": false, "ticks": false, "labelFontSize": 21, "labelColor": "black", "labelPadding": 9, "labelFlush": false, "labelOverlap": false, "titleFontSize": 23.5, "titleFontWeight": "bold", "titleColor": "black", "titleX": -58, "titleY": 351.5, "titleAngle": 270, "titleAlign": "center", "titleBaseline": "middle"}},
  "y2": {"datum": 0}}},
{"data": {"values": [{"f":3600},{"f":4100},{"f":4600},{"f":5100}]}, "mark": {"type": "rule", "color": "black", "strokeWidth": 1, "strokeDash": [8,5]},
 "encoding": {"x": {"field": "f", "type": "quantitative"}, "y": {"datum": -60, "type": "quantitative"}, "y2": {"datum": 0}}},
{"data": {"values": [{"v":-10},{"v":-20},{"v":-30},{"v":-40},{"v":-50}]}, "mark": {"type": "rule", "color": "black", "strokeWidth": 1, "strokeDash": [8,5]},
 "encoding": {"y": {"field": "v", "type": "quantitative"}, "x": {"datum": 3100, "type": "quantitative"}, "x2": {"datum": 5600}}},
{"data": {"name": "p3"}, "transform": [{"fold": ["-55°C","25°C","95°C","150°C"], "as": ["s","v"]}, {"filter": "isValid(datum.v)"}],
 "mark": {"type": "line", "strokeWidth": 1.6, "opacity": 0.85, "interpolate": "monotone"},
 "encoding": {"x": {"field": "f", "type": "quantitative"}, "y": {"field": "v", "type": "quantitative"},
  "stroke": {"field": "s", "type": "nominal", "scale": {"domain": ["-55°C","25°C","95°C","150°C"], "range": ["#0000ff","#ff0000","#00ff00","#ff00ff"]}, "legend": null}}},
{"data": {"name": "p3"}, "transform": [{"fold": ["-55°C","25°C","95°C","150°C"], "as": ["s","v"]}, {"filter": "isValid(datum.v)"}, {"filter": {"field": "f", "oneOf": [3100,3230,3360,3491,3621,3751,3881,4011,4142,4272,4402,4532,4662,4793,4923,5053,5183,5313,5444,5574]}}],
 "mark": {"type": "point", "filled": false, "size": 100, "strokeWidth": 1, "opacity": 1},
 "encoding": {"x": {"field": "f", "type": "quantitative"}, "y": {"field": "v", "type": "quantitative"},
  "color": {"field": "s", "type": "nominal", "scale": {"domain": ["-55°C","25°C","95°C","150°C"], "range": ["#0000ff","#ff0000","#00ff00","#ff00ff"]}, "legend": null},
  "shape": {"field": "s", "type": "nominal", "scale": {"domain": ["-55°C","25°C","95°C","150°C"], "range": ["square","circle","triangle-up","M0,-1.2L0,1.2M-1.2,0L1.2,0M-0.85,-0.85L0.85,0.85M-0.85,0.85L0.85,-0.85"]}, "legend": null}}},
{"data": {"values": [{}]}, "mark": {"type": "rect", "fill": "white", "stroke": "#333333", "strokeWidth": 1}, "encoding": {"x": {"datum": 5060, "type": "quantitative"}, "x2": {"datum": 5528}, "y": {"datum": -2.8, "type": "quantitative"}, "y2": {"datum": -18.75}}},
{"data": {"values": [{}]}, "mark": {"type": "point", "shape": "square", "color": "#0000ff", "filled": false, "size": 80, "strokeWidth": 1, "opacity": 1}, "encoding": {"x": {"datum": 5166, "type": "quantitative"}, "y": {"datum": -5.2, "type": "quantitative"}}},
{"data": {"values": [{}]}, "mark": {"type": "point", "shape": "circle", "color": "#ff0000", "filled": false, "size": 90, "strokeWidth": 1, "opacity": 1}, "encoding": {"x": {"datum": 5166, "type": "quantitative"}, "y": {"datum": -9.05, "type": "quantitative"}}},
{"data": {"values": [{}]}, "mark": {"type": "point", "shape": "triangle-up", "color": "#00ff00", "filled": false, "size": 90, "strokeWidth": 1, "opacity": 1}, "encoding": {"x": {"datum": 5166, "type": "quantitative"}, "y": {"datum": -12.8, "type": "quantitative"}}},
{"data": {"values": [{}]}, "mark": {"type": "point", "shape": "M0,-1.2L0,1.2M-1.2,0L1.2,0M-0.85,-0.85L0.85,0.85M-0.85,0.85L0.85,-0.85", "color": "#ff00ff", "filled": false, "size": 80, "strokeWidth": 1, "opacity": 1}, "encoding": {"x": {"datum": 5166, "type": "quantitative"}, "y": {"datum": -16.65, "type": "quantitative"}}},
{"data": {"values": [{"t": "-55°C"}]}, "mark": {"type": "text", "align": "left", "baseline": "middle", "fontSize": 19, "color": "black"}, "encoding": {"x": {"datum": 5266, "type": "quantitative"}, "y": {"datum": -5.2, "type": "quantitative"}, "text": {"field": "t"}}},
{"data": {"values": [{"t": "25°C"}]}, "mark": {"type": "text", "align": "left", "baseline": "middle", "fontSize": 19, "color": "black"}, "encoding": {"x": {"datum": 5266, "type": "quantitative"}, "y": {"datum": -9.05, "type": "quantitative"}, "text": {"field": "t"}}},
{"data": {"values": [{"t": "95°C"}]}, "mark": {"type": "text", "align": "left", "baseline": "middle", "fontSize": 19, "color": "black"}, "encoding": {"x": {"datum": 5266, "type": "quantitative"}, "y": {"datum": -12.8, "type": "quantitative"}, "text": {"field": "t"}}},
{"data": {"values": [{"t": "150°C"}]}, "mark": {"type": "text", "align": "left", "baseline": "middle", "fontSize": 19, "color": "black"}, "encoding": {"x": {"datum": 5266, "type": "quantitative"}, "y": {"datum": -16.65, "type": "quantitative"}, "text": {"field": "t"}}},
{"data": {"values": [{"t": "Return Loss for X4C45K1-05S (Feeding Port 3)"}]}, "mark": {"type": "text", "fontSize": 23.5, "fontWeight": "bold", "color": "black", "baseline": "middle", "align": "center", "dy": -18},
 "encoding": {"x": {"datum": 4350, "type": "quantitative"}, "y": {"datum": 0, "type": "quantitative"}, "text": {"field": "t"}}}
]},
{"width": 696, "height": 730, "layer": [
{"data": {"values": [{}]}, "mark": {"type": "rect", "fill": "transparent", "stroke": "#404040", "strokeWidth": 1},
 "encoding": {
  "x": {"datum": 3100, "type": "quantitative", "scale": {"domain": [2780.13, 5709.43], "nice": false, "zero": false},
   "axis": {"title": "Frequency (MHz)", "orient": "bottom", "offset": -175, "values": [3100,3600,4100,4600,5100,5600], "labelExpr": "'' + datum.value", "grid": false, "domain": false, "ticks": false, "labelFontSize": 21, "labelColor": "black", "labelPadding": 12, "labelFlush": false, "labelOverlap": false, "titleFontSize": 23.5, "titleFontWeight": "bold", "titleColor": "black", "titleX": 373, "titleY": 56, "titleAlign": "center", "titleBaseline": "middle"}},
  "x2": {"datum": 5600},
  "y": {"datum": -60, "type": "quantitative", "scale": {"domain": [-86.05, 22.63], "nice": false, "zero": false},
   "axis": {"title": "Return Loss (dB)", "orient": "left", "offset": -76, "values": [0,-10,-20,-30,-40,-50,-60], "labelExpr": "'' + datum.value", "grid": false, "domain": false, "ticks": false, "labelFontSize": 21, "labelColor": "black", "labelPadding": 9, "labelFlush": false, "labelOverlap": false, "titleFontSize": 23.5, "titleFontWeight": "bold", "titleColor": "black", "titleX": -58, "titleY": 353.5, "titleAngle": 270, "titleAlign": "center", "titleBaseline": "middle"}},
  "y2": {"datum": 0}}},
{"data": {"values": [{"f":3600},{"f":4100},{"f":4600},{"f":5100}]}, "mark": {"type": "rule", "color": "black", "strokeWidth": 1, "strokeDash": [8,5]},
 "encoding": {"x": {"field": "f", "type": "quantitative"}, "y": {"datum": -60, "type": "quantitative"}, "y2": {"datum": 0}}},
{"data": {"values": [{"v":-10},{"v":-20},{"v":-30},{"v":-40},{"v":-50}]}, "mark": {"type": "rule", "color": "black", "strokeWidth": 1, "strokeDash": [8,5]},
 "encoding": {"y": {"field": "v", "type": "quantitative"}, "x": {"datum": 3100, "type": "quantitative"}, "x2": {"datum": 5600}}},
{"data": {"name": "p4"}, "transform": [{"fold": ["-55°C","25°C","95°C","150°C"], "as": ["s","v"]}, {"filter": "isValid(datum.v)"}],
 "mark": {"type": "line", "strokeWidth": 1.6, "opacity": 0.85, "interpolate": "monotone"},
 "encoding": {"x": {"field": "f", "type": "quantitative"}, "y": {"field": "v", "type": "quantitative"},
  "stroke": {"field": "s", "type": "nominal", "scale": {"domain": ["-55°C","25°C","95°C","150°C"], "range": ["#0000ff","#ff0000","#00ff00","#ff00ff"]}, "legend": null}}},
{"data": {"name": "p4"}, "transform": [{"fold": ["-55°C","25°C","95°C","150°C"], "as": ["s","v"]}, {"filter": "isValid(datum.v)"}, {"filter": {"field": "f", "oneOf": [3100,3230,3360,3491,3621,3751,3881,4011,4142,4272,4402,4532,4662,4793,4923,5053,5183,5313,5444,5574]}}],
 "mark": {"type": "point", "filled": false, "size": 100, "strokeWidth": 1, "opacity": 1},
 "encoding": {"x": {"field": "f", "type": "quantitative"}, "y": {"field": "v", "type": "quantitative"},
  "color": {"field": "s", "type": "nominal", "scale": {"domain": ["-55°C","25°C","95°C","150°C"], "range": ["#0000ff","#ff0000","#00ff00","#ff00ff"]}, "legend": null},
  "shape": {"field": "s", "type": "nominal", "scale": {"domain": ["-55°C","25°C","95°C","150°C"], "range": ["square","circle","triangle-up","M0,-1.2L0,1.2M-1.2,0L1.2,0M-0.85,-0.85L0.85,0.85M-0.85,0.85L0.85,-0.85"]}, "legend": null}}},
{"data": {"values": [{}]}, "mark": {"type": "rect", "fill": "white", "stroke": "#333333", "strokeWidth": 1}, "encoding": {"x": {"datum": 5053, "type": "quantitative"}, "x2": {"datum": 5520}, "y": {"datum": -2.7, "type": "quantitative"}, "y2": {"datum": -18.75}}},
{"data": {"values": [{}]}, "mark": {"type": "point", "shape": "square", "color": "#0000ff", "filled": false, "size": 80, "strokeWidth": 1, "opacity": 1}, "encoding": {"x": {"datum": 5158, "type": "quantitative"}, "y": {"datum": -5.2, "type": "quantitative"}}},
{"data": {"values": [{}]}, "mark": {"type": "point", "shape": "circle", "color": "#ff0000", "filled": false, "size": 90, "strokeWidth": 1, "opacity": 1}, "encoding": {"x": {"datum": 5158, "type": "quantitative"}, "y": {"datum": -9.0, "type": "quantitative"}}},
{"data": {"values": [{}]}, "mark": {"type": "point", "shape": "triangle-up", "color": "#00ff00", "filled": false, "size": 90, "strokeWidth": 1, "opacity": 1}, "encoding": {"x": {"datum": 5158, "type": "quantitative"}, "y": {"datum": -12.8, "type": "quantitative"}}},
{"data": {"values": [{}]}, "mark": {"type": "point", "shape": "M0,-1.2L0,1.2M-1.2,0L1.2,0M-0.85,-0.85L0.85,0.85M-0.85,0.85L0.85,-0.85", "color": "#ff00ff", "filled": false, "size": 80, "strokeWidth": 1, "opacity": 1}, "encoding": {"x": {"datum": 5158, "type": "quantitative"}, "y": {"datum": -16.6, "type": "quantitative"}}},
{"data": {"values": [{"t": "-55°C"}]}, "mark": {"type": "text", "align": "left", "baseline": "middle", "fontSize": 19, "color": "black"}, "encoding": {"x": {"datum": 5259, "type": "quantitative"}, "y": {"datum": -5.2, "type": "quantitative"}, "text": {"field": "t"}}},
{"data": {"values": [{"t": "25°C"}]}, "mark": {"type": "text", "align": "left", "baseline": "middle", "fontSize": 19, "color": "black"}, "encoding": {"x": {"datum": 5259, "type": "quantitative"}, "y": {"datum": -9.0, "type": "quantitative"}, "text": {"field": "t"}}},
{"data": {"values": [{"t": "95°C"}]}, "mark": {"type": "text", "align": "left", "baseline": "middle", "fontSize": 19, "color": "black"}, "encoding": {"x": {"datum": 5259, "type": "quantitative"}, "y": {"datum": -12.8, "type": "quantitative"}, "text": {"field": "t"}}},
{"data": {"values": [{"t": "150°C"}]}, "mark": {"type": "text", "align": "left", "baseline": "middle", "fontSize": 19, "color": "black"}, "encoding": {"x": {"datum": 5259, "type": "quantitative"}, "y": {"datum": -16.6, "type": "quantitative"}, "text": {"field": "t"}}},
{"data": {"values": [{"t": "Return Loss for X4C45K1-05S (Feeding Port 4)"}]}, "mark": {"type": "text", "fontSize": 23.5, "fontWeight": "bold", "color": "black", "baseline": "middle", "align": "center", "dy": -19},
 "encoding": {"x": {"datum": 4350, "type": "quantitative"}, "y": {"datum": 0, "type": "quantitative"}, "text": {"field": "t"}}}
]}
], "spacing": 0, "bounds": "flush",
 "resolve": {"scale": {"x": "independent", "y": "independent", "color": "independent", "shape": "independent", "stroke": "independent"}, "axis": {"x": "independent", "y": "independent"}}}
],
"spacing": 0,
"resolve": {"scale": {"x": "independent", "y": "independent", "color": "independent", "shape": "independent", "stroke": "independent"}, "axis": {"x": "independent", "y": "independent"}}
}
